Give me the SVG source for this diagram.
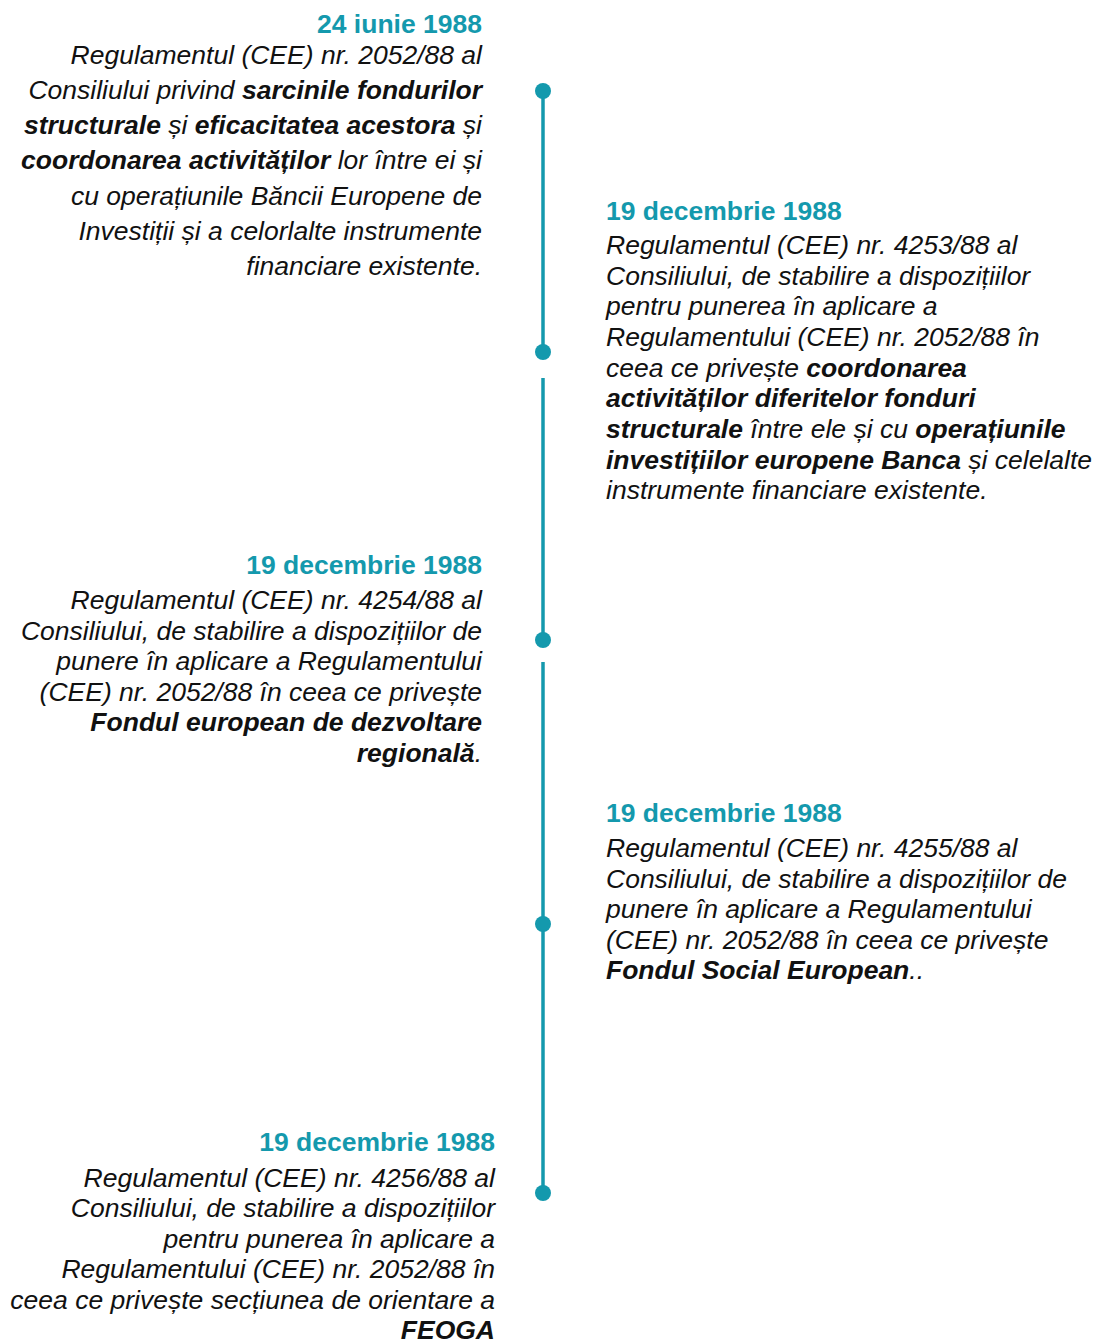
<svg xmlns="http://www.w3.org/2000/svg" width="1096" height="1340" viewBox="0 0 1096 1340">
<style>
text{font-family:"Liberation Sans",Arial,sans-serif;font-size:26.5px;fill:#111;}
.h{font-weight:bold;fill:#1499ad;}
.b{font-style:italic;}
.s{font-weight:bold;}
.l text{text-anchor:end;}
.line{stroke:#1499ad;stroke-width:3.5;fill:none;}
.dot{fill:#1499ad;}
</style>
<rect width="1096" height="1340" fill="#ffffff"/>
<g id="connectors">
<line class="line" x1="543" y1="91" x2="543" y2="352"/>
<line class="line" x1="543" y1="378" x2="543" y2="640"/>
<line class="line" x1="543" y1="662" x2="543" y2="1193"/>
</g>
<g id="dots">
<circle class="dot" cx="543" cy="91" r="8"/>
<circle class="dot" cx="543" cy="352" r="8"/>
<circle class="dot" cx="543" cy="640" r="8"/>
<circle class="dot" cx="543" cy="924" r="8"/>
<circle class="dot" cx="543" cy="1193" r="8"/>
</g>
<g id="event1" class="l">
<text class="h" x="482" y="33">24 iunie 1988</text>
<text class="b" x="482" y="64">Regulamentul (CEE) nr. 2052/88 al</text>
<text class="b" x="482" y="99">Consiliului privind <tspan class="s">sarcinile fondurilor</tspan></text>
<text class="b" x="482" y="134"><tspan class="s">structurale</tspan> și <tspan class="s">eficacitatea acestora</tspan> și</text>
<text class="b" x="482" y="169"><tspan class="s">coordonarea activităților</tspan> lor între ei și</text>
<text class="b" x="482" y="205">cu operațiunile Băncii Europene de</text>
<text class="b" x="482" y="240">Investiții și a celorlalte instrumente</text>
<text class="b" x="482" y="275">financiare existente.</text>
</g>
<g id="event2">
<text class="h" x="606" y="220">19 decembrie 1988</text>
<text class="b" x="606" y="254">Regulamentul (CEE) nr. 4253/88 al</text>
<text class="b" x="606" y="285">Consiliului, de stabilire a dispozițiilor</text>
<text class="b" x="606" y="315">pentru punerea în aplicare a</text>
<text class="b" x="606" y="346">Regulamentului (CEE) nr. 2052/88 în</text>
<text class="b" x="606" y="377">ceea ce privește <tspan class="s">coordonarea</tspan></text>
<text class="b" x="606" y="407"><tspan class="s">activităților diferitelor fonduri</tspan></text>
<text class="b" x="606" y="438"><tspan class="s">structurale</tspan> între ele și cu <tspan class="s">operațiunile</tspan></text>
<text class="b" x="606" y="469"><tspan class="s">investițiilor europene Banca</tspan> și celelalte</text>
<text class="b" x="606" y="499">instrumente financiare existente.</text>
</g>
<g id="event3" class="l">
<text class="h" x="482" y="574">19 decembrie 1988</text>
<text class="b" x="482" y="609">Regulamentul (CEE) nr. 4254/88 al</text>
<text class="b" x="482" y="640">Consiliului, de stabilire a dispozițiilor de</text>
<text class="b" x="482" y="670">punere în aplicare a Regulamentului</text>
<text class="b" x="482" y="701">(CEE) nr. 2052/88 în ceea ce privește</text>
<text class="b" x="482" y="731"><tspan class="s">Fondul european de dezvoltare</tspan></text>
<text class="b" x="482" y="762"><tspan class="s">regională</tspan>.</text>
</g>
<g id="event4">
<text class="h" x="606" y="822">19 decembrie 1988</text>
<text class="b" x="606" y="857">Regulamentul (CEE) nr. 4255/88 al</text>
<text class="b" x="606" y="888">Consiliului, de stabilire a dispozițiilor de</text>
<text class="b" x="606" y="918">punere în aplicare a Regulamentului</text>
<text class="b" x="606" y="949">(CEE) nr. 2052/88 în ceea ce privește</text>
<text class="b" x="606" y="979"><tspan class="s">Fondul Social European</tspan>..</text>
</g>
<g id="event5" class="l">
<text class="h" x="495" y="1151">19 decembrie 1988</text>
<text class="b" x="495" y="1187">Regulamentul (CEE) nr. 4256/88 al</text>
<text class="b" x="495" y="1217">Consiliului, de stabilire a dispozițiilor</text>
<text class="b" x="495" y="1248">pentru punerea în aplicare a</text>
<text class="b" x="495" y="1278">Regulamentului (CEE) nr. 2052/88 în</text>
<text class="b" x="495" y="1309">ceea ce privește secțiunea de orientare a</text>
<text class="b" x="495" y="1339"><tspan class="s">FEOGA</tspan></text>
</g>
</svg>
